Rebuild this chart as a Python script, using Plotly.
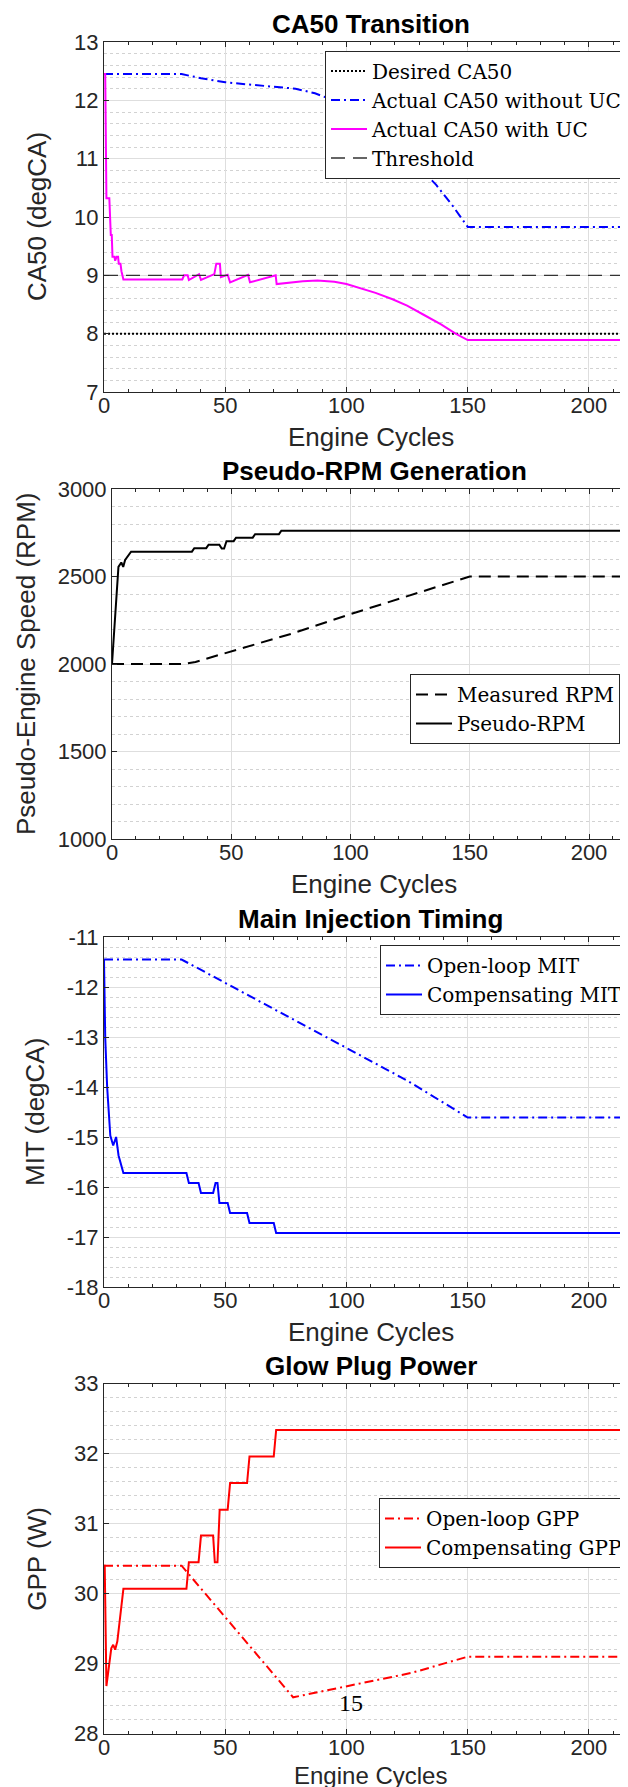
import plotly.graph_objects as go

# ---------------- data ----------------
cycles_flat = [0, 220]

ca50_desired = [8, 8]
ca50_threshold = [9, 9]

ca50_noUC_x = [0, 32, 40, 50, 60, 72, 79, 87, 94, 100, 110, 118, 124, 130, 137, 144, 150, 220]
ca50_noUC_y = [12.45, 12.45, 12.38, 12.31, 12.27, 12.23, 12.2, 12.12, 12.01, 11.92, 11.68, 11.4,
               11.15, 10.85, 10.55, 10.18, 9.83, 9.83]

ca50_UC_x = [0, 0.5, 1.0, 2.2, 2.8, 3.2, 3.5, 4.3, 4.6, 5.2, 5.8, 6.1, 6.8, 7.2, 8, 32.3, 33, 34.5,
             35, 39.2, 40, 45.5, 46.3, 47.8, 48.2, 51, 52, 59.4, 60.2, 70.8, 71.2, 76, 82, 88, 95,
             100, 106, 112, 119, 125, 132, 139, 145, 150, 220]
ca50_UC_y = [12.45, 12.45, 10.32, 10.32, 9.69, 9.69, 9.32, 9.32, 9.25, 9.32, 9.32, 9.2, 9.2, 9.07,
             8.93, 8.93, 9.0, 9.0, 8.92, 9.02, 8.92, 9.02, 9.2, 9.2, 8.97, 9.01, 8.88, 9.01, 8.88,
             9.0, 8.85, 8.87, 8.9, 8.91, 8.89, 8.85, 8.78, 8.7, 8.59, 8.48, 8.32, 8.16, 8.0, 7.89, 7.89]

rpm_meas_x = [0, 30, 35, 40, 50, 60, 75, 100, 125, 150, 220]
rpm_meas_y = [2000, 2000, 2012, 2032, 2075, 2115, 2172, 2285, 2393, 2500, 2500]

rpm_pseudo_x = [0, 1.3, 2.7, 3.9, 4.7, 5.5, 8, 33.5, 34.5, 39.5, 40.5, 45, 46, 47, 48, 51, 52, 59,
                60, 70, 71, 220]
rpm_pseudo_y = [2000, 2300, 2555, 2580, 2555, 2595, 2642, 2642, 2662, 2662, 2682, 2682, 2660, 2660,
                2702, 2702, 2722, 2722, 2742, 2742, 2762, 2762]

mit_ol_x = [0, 32, 125, 150, 220]
mit_ol_y = [-11.45, -11.45, -13.87, -14.61, -14.61]

mit_comp_x = [0, 0.5, 1.3, 2.6, 3.8, 5, 6, 8, 34, 35, 39, 40, 45, 46, 46.8, 47.6, 51, 52, 59, 60,
              70, 71, 220]
mit_comp_y = [-11.45, -13.0, -14.0, -14.97, -15.17, -15.0, -15.37, -15.72, -15.72, -15.92, -15.92,
              -16.12, -16.12, -15.92, -15.92, -16.32, -16.32, -16.52, -16.52, -16.72, -16.72,
              -16.92, -16.92]

gpp_ol_x = [0, 32, 78, 127, 150, 220]
gpp_ol_y = [30.4, 30.4, 28.52, 28.87, 29.1, 29.1]

gpp_comp_x = [0, 0.3, 1, 2, 3, 3.8, 4.6, 5.5, 8, 34, 35, 39, 40, 45, 45.7, 46.8, 47.7, 51, 52, 59,
              60, 70, 71, 220]
gpp_comp_y = [30.4, 30.4, 28.68, 29.0, 29.22, 29.27, 29.2, 29.32, 30.07, 30.07, 30.45, 30.45, 30.83,
              30.83, 30.45, 30.45, 31.2, 31.2, 31.58, 31.58, 31.96, 31.96, 32.34, 32.34]

x_ticks = [0, 50, 100, 150, 200]
mit_ticks = [-18, -17, -16, -15, -14, -13, -12, -11]
mit_ticklabels = ["-18", "-17", "-16", "-15", "-14", "-13", "-12", "-11"]
x_title = "Engine Cycles"
gpp_note_text = "15"
gpp_note_pos = (102, 28.44)

# ---------------- layout helpers ----------------
W, H = 628, 1787
AX = "#262626"
SANS = "Liberation Sans, Arial, sans-serif"
SERIF = "DejaVu Serif, serif"

def ydom(top, bottom):
    return [1 - bottom / H, 1 - top / H]

fig = go.Figure()

def add(x, y, color, dash, width, name, xa, ya, leg):
    fig.add_trace(go.Scatter(x=x, y=y, mode="lines", name=name,
                             line=dict(color=color, dash=dash, width=width),
                             xaxis=xa, yaxis=ya, legend=leg))

DASHDOT = "9px,4px,2px,4px"
# panel 1
add(cycles_flat, ca50_desired, "black", "2px,2px", 2, "Desired CA50", "x", "y", "legend")
add(ca50_noUC_x, ca50_noUC_y, "#0000ff", DASHDOT, 2, "Actual CA50 without UC", "x", "y", "legend")
add(ca50_UC_x, ca50_UC_y, "#ff00ff", "solid", 2, "Actual CA50 with UC", "x", "y", "legend")
add(cycles_flat, ca50_threshold, "#333333", "14px,8px", 1.3, "Threshold", "x", "y", "legend")
# panel 2
add(rpm_meas_x, rpm_meas_y, "black", "12px,7px", 2, "Measured RPM", "x2", "y2", "legend2")
add(rpm_pseudo_x, rpm_pseudo_y, "black", "solid", 2, "Pseudo-RPM", "x2", "y2", "legend2")
# panel 3
add(mit_ol_x, mit_ol_y, "#0000ff", DASHDOT, 2, "Open-loop MIT", "x3", "y3", "legend3")
add(mit_comp_x, mit_comp_y, "#0000ff", "solid", 2, "Compensating MIT", "x3", "y3", "legend3")
# panel 4
add(gpp_ol_x, gpp_ol_y, "#ff0000", DASHDOT, 2, "Open-loop GPP", "x4", "y4", "legend4")
add(gpp_comp_x, gpp_comp_y, "#ff0000", "solid", 2, "Compensating GPP", "x4", "y4", "legend4")

panels = [
    # (left px, top px, bottom px, x range end, y range, y dtick, y minor, ytitle, ytitle x, title)
    (96, 34, 384, 219.4, [7, 13], 1, 0.2, "CA50 (degCA)", 29, "CA50 Transition"),
    (104, 481, 831, 219.7, [1000, 3000], 500, 100, "Pseudo-Engine Speed (RPM)", 18, "Pseudo-RPM Generation"),
    (96, 929, 1279, 219.4, [-18, -11], 1, 0.2, "MIT (degCA)", 27, "Main Injection Timing"),
    (96, 1375.7, 1725.7, 219.4, [28, 33], 1, 0.2, "GPP (W)", 29, "Glow Plug Power"),
]
legend_boxes = [(620, 42.5), (612, 666), (620, 937), (620, 1490)]

annotations = []
for i, (left, top, bottom, xr, yr, ydt, ymin, ytitle, ytx, title) in enumerate(panels):
    sfx = "" if i == 0 else str(i + 1)
    xa = dict(domain=[left / W, 1.0], range=[0, xr], anchor="y" + sfx,
              showline=True, linecolor=AX, linewidth=1, mirror="ticks",
              ticks="inside", ticklen=5, tickcolor=AX, tickvals=x_ticks,
              tickfont=dict(family=SANS, size=22, color=AX), ticklabelstandoff=-6,
              showgrid=True, gridcolor="#dedede", gridwidth=1, zeroline=False,
              minor=dict(dtick=10, tick0=0, ticks="inside", ticklen=3, tickcolor=AX, showgrid=False))
    ya = dict(domain=ydom(top, bottom), range=yr, anchor="x" + sfx,
              showline=True, linecolor=AX, linewidth=1, mirror="ticks",
              ticks="inside", ticklen=5, tickcolor=AX, dtick=ydt, tick0=yr[0],
              tickfont=dict(family=SANS, size=22, color=AX),
              showgrid=True, gridcolor="#dedede", gridwidth=1, zeroline=False,
              minor=dict(dtick=ymin, tick0=yr[0], ticks="", showgrid=True, griddash="dot",
                         gridcolor="#d2d2d2", gridwidth=1))
    if i == 2:
        ya.update(tickvals=mit_ticks, ticktext=mit_ticklabels)
    fig.update_layout(**{"xaxis" + sfx: xa, "yaxis" + sfx: ya})

    # panel title
    annotations.append(dict(text="<b>" + title + "</b>", x=110, y=1, xref="x" + sfx,
                            yref="y" + sfx + " domain", yanchor="middle", yshift=18,
                            showarrow=False, font=dict(family=SANS, size=26, color="black")))
    # x axis title
    if i < 3:
        annotations.append(dict(text=x_title, x=110, y=0, xref="x" + sfx,
                                yref="y" + sfx + " domain", yanchor="middle", yshift=-45,
                                showarrow=False, font=dict(family=SANS, size=26, color=AX)))
    else:
        annotations.append(dict(text=x_title, x=110, y=0, xref="x" + sfx,
                                yref="paper", yanchor="bottom", yshift=4,
                                showarrow=False, font=dict(family=SANS, size=24, color=AX)))
    # y axis title
    annotations.append(dict(text=ytitle, x=ytx / W, y=0.5, xref="paper",
                            yref="y" + sfx + " domain", textangle=-90,
                            xanchor="center", yanchor="middle",
                            showarrow=False, font=dict(family=SANS, size=26, color=AX)))

    lx, ltop = legend_boxes[i]
    leg = dict(x=lx / W, y=1 - ltop / H, xanchor="right", yanchor="top",
               bgcolor="white", bordercolor=AX, borderwidth=1,
               font=dict(family=SERIF, size=20, color="black"),
               itemwidth=36, tracegroupgap=0)
    fig.update_layout(**{"legend" + ("" if i == 0 else str(i + 1)): leg})

annotations.append(dict(text=gpp_note_text, x=gpp_note_pos[0], y=gpp_note_pos[1], xref="x4", yref="y4",
                        showarrow=False, font=dict(family="Liberation Serif, serif", size=24, color="black")))

fig.update_layout(width=W, height=H, margin=dict(l=0, r=0, t=0, b=0, autoexpand=False),
                  paper_bgcolor="white", plot_bgcolor="white", showlegend=True,
                  annotations=annotations)

fig.write_html("out.html")
